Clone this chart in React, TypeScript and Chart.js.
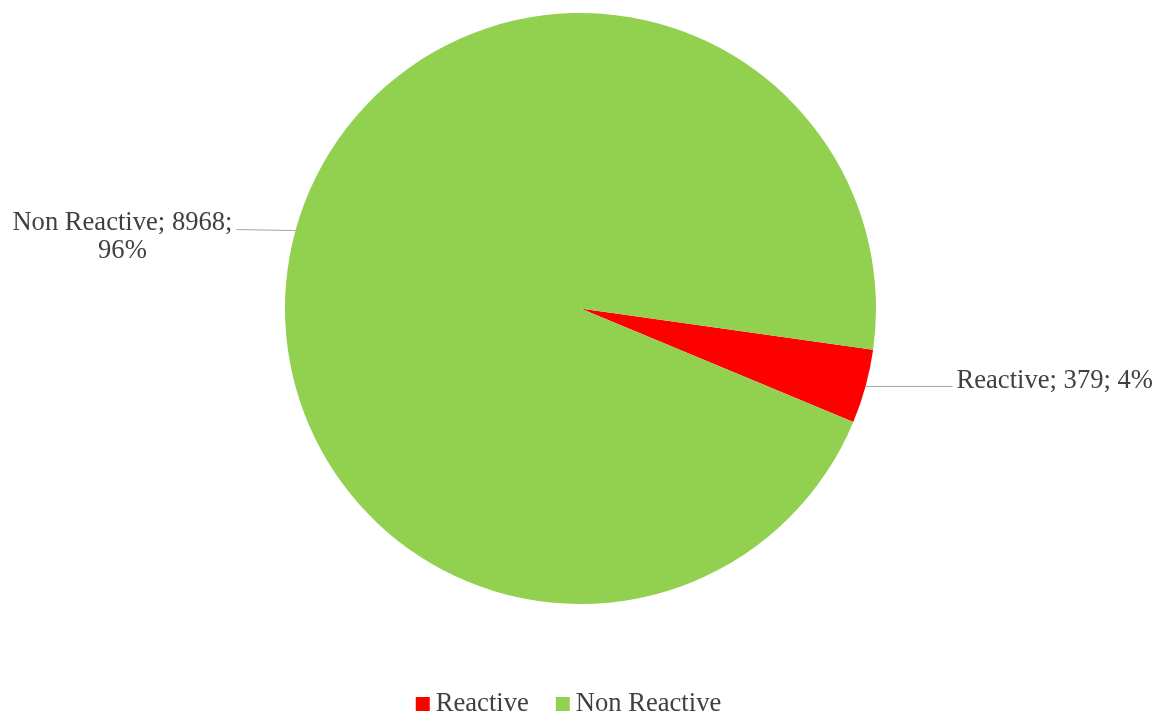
import React, { useEffect, useRef } from "react";
import { Chart, registerables } from "chart.js";

Chart.register(...registerables);

const categories = ["Reactive", "Non Reactive"];
const values = [379, 8968];
const colors = ["#FF0000", "#92D050"];

const FONT = '26.6px "Liberation Serif", "Times New Roman", serif';
const TEXT_COLOR = "#404040";
const LINE_COLOR = "#A6A6A6";

const labelPlugin = {
  id: "excelLabels",
  afterDraw(chart: any) {
    const ctx = chart.ctx as CanvasRenderingContext2D;
    const meta = chart.getDatasetMeta(0);
    const data = chart.data.datasets[0].data as number[];
    const total = data.reduce((a, b) => a + b, 0);
    ctx.save();
    ctx.font = FONT;
    ctx.fillStyle = TEXT_COLOR;
    meta.data.forEach((arc: any, i: number) => {
      const { x, y, startAngle, endAngle, outerRadius } = arc.getProps(
        ["x", "y", "startAngle", "endAngle", "outerRadius"],
        true
      );
      const mid = (startAngle + endAngle) / 2;
      const px = x + outerRadius * Math.cos(mid);
      const py = y + outerRadius * Math.sin(mid);
      const pct = Math.round((data[i] / total) * 100);
      const text = `${chart.data.labels[i]}; ${data[i]}; ${pct}%`;
      ctx.strokeStyle = LINE_COLOR;
      ctx.lineWidth = 1;
      if (Math.cos(mid) >= 0) {
        ctx.beginPath();
        ctx.moveTo(px, py);
        ctx.lineTo(px + 87, py);
        ctx.stroke();
        ctx.textAlign = "left";
        ctx.textBaseline = "alphabetic";
        ctx.fillText(text, px + 91, py + 1.5);
      } else {
        ctx.beginPath();
        ctx.moveTo(px, py);
        ctx.lineTo(px - 59, py - 1);
        ctx.stroke();
        const right = px - 63;
        const maxW = right - 6;
        const words = text.split(" ");
        const lines: string[] = [];
        let cur = "";
        words.forEach((w) => {
          const test = cur ? cur + " " + w : w;
          if (ctx.measureText(test).width > maxW && cur) {
            lines.push(cur);
            cur = w;
          } else cur = test;
        });
        if (cur) lines.push(cur);
        const blockW = Math.max(...lines.map((l) => ctx.measureText(l).width));
        const cx = right - blockW / 2;
        ctx.textAlign = "center";
        ctx.textBaseline = "alphabetic";
        lines.forEach((l, k) => {
          ctx.fillText(l, cx, py - 1 + k * 28);
        });
      }
    });

    // legend
    const box = 14;
    const gapBoxText = 6;
    const gapItems = 27;
    const widths = (chart.data.labels as string[]).map(
      (l) => box + gapBoxText + ctx.measureText(l).width
    );
    const totalW = widths.reduce((a, b) => a + b, 0) + gapItems * (widths.length - 1);
    let lx = chart.width / 2 - 10 - totalW / 2;
    const baseY = 711;
    ctx.textAlign = "left";
    (chart.data.labels as string[]).forEach((l, i) => {
      ctx.fillStyle = colors[i];
      ctx.fillRect(lx, baseY - 14, box, box);
      ctx.fillStyle = TEXT_COLOR;
      ctx.fillText(l, lx + box + gapBoxText, baseY);
      lx += widths[i] + gapItems;
    });
    ctx.restore();
  },
};

export default function App() {
  const ref = useRef<HTMLCanvasElement>(null);
  useEffect(() => {
    document.body.style.margin = "0";
    const chart = new Chart(ref.current!, {
      type: "pie",
      data: {
        labels: categories,
        datasets: [
          {
            data: values,
            backgroundColor: colors,
            borderWidth: 0,
          },
        ],
      },
      options: {
        responsive: false,
        animation: false,
        rotation: 98,
        layout: { padding: { top: 13, bottom: 112, left: 4, right: 0 } },
        plugins: {
          legend: { display: false },
          tooltip: { enabled: false },
        },
      },
      plugins: [labelPlugin],
    });
    return () => chart.destroy();
  }, []);
  return (
    <div style={{ width: 1157, height: 716, background: "#fff" }}>
      <canvas ref={ref} width={1157} height={716} />
    </div>
  );
}
